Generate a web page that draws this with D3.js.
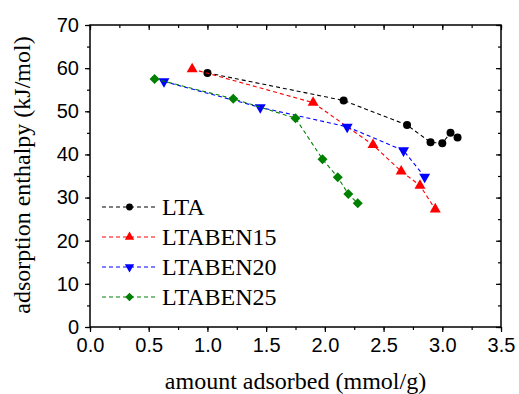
<!DOCTYPE html>
<html><head><meta charset="utf-8">
<script src="https://cdn.jsdelivr.net/npm/d3@7"></script>
</head><body style="margin:0">
<script>
const seriesNames = ["LTA","LTABEN15","LTABEN20","LTABEN25"];
const seriesColors = ["#000000","#ff0000","#0000ff","#008000"];
const seriesSymbols = ["circle","triangleUp","triangleDown","diamond"];
const ltaX = [1.00, 2.16, 2.70, 2.90, 3.00, 3.07, 3.13];
const ltaY = [58.9, 52.5, 46.8, 42.8, 42.6, 45.0, 43.9];
const ben15X = [0.87, 1.90, 2.41, 2.65, 2.81, 2.94];
const ben15Y = [59.8, 52.0, 42.2, 36.1, 32.8, 27.3];
const ben20X = [0.63, 1.45, 2.19, 2.67, 2.85];
const ben20Y = [56.9, 50.9, 46.4, 40.9, 34.8];
const ben25X = [0.55, 1.22, 1.75, 1.98, 2.11, 2.20, 2.28];
const ben25Y = [57.5, 52.9, 48.4, 38.9, 34.7, 30.8, 28.7];
const xTicks = [0.0,0.5,1.0,1.5,2.0,2.5,3.0,3.5];
const yTicks = [0,10,20,30,40,50,60,70];
const xLabel = "amount adsorbed (mmol/g)";
const yLabel = "adsorption enthalpy (kJ/mol)";

const allX = [ltaX, ben15X, ben20X, ben25X];
const allY = [ltaY, ben15Y, ben20Y, ben25Y];

const W = 519, H = 394;
const L = 90, R = 501, T = 25, B = 327;
const svg = d3.select("body").append("svg").attr("width", W).attr("height", H).style("display", "block");
const x = d3.scaleLinear().domain([0, 3.5]).range([L, R]);
const y = d3.scaleLinear().domain([0, 70]).range([B, T]);

const xMinor = d3.range(0, 3.5001, 0.25);
const yMinor = d3.range(0, 70.001, 5);

function styleAxis(g) {
  g.select(".domain").remove();
  g.selectAll(".tick line").attr("stroke", "#000").attr("stroke-width", 1.2);
  g.selectAll("text").style("font-family", "Liberation Sans").attr("font-size", 20).attr("fill", "#000");
}
svg.append("g").attr("transform", `translate(0,${B})`)
  .call(d3.axisBottom(x).tickValues(xMinor).tickSize(3).tickFormat(""))
  .call(styleAxis);
svg.append("g").attr("transform", `translate(0,${T})`)
  .call(d3.axisBottom(x).tickValues(xMinor).tickSize(3).tickFormat(""))
  .call(styleAxis);
svg.append("g").attr("transform", `translate(${L},0)`)
  .call(d3.axisLeft(y).tickValues(yMinor).tickSize(3).tickFormat(""))
  .call(styleAxis);
svg.append("g").attr("transform", `translate(${R},0)`)
  .call(d3.axisLeft(y).tickValues(yMinor).tickSize(3).tickFormat(""))
  .call(styleAxis);
svg.append("g").attr("transform", `translate(0,${B})`)
  .call(d3.axisBottom(x).tickValues(xTicks).tickSize(5).tickPadding(6).tickFormat(d3.format(".1f")))
  .call(styleAxis);
svg.append("g").attr("transform", `translate(0,${T})`)
  .call(d3.axisBottom(x).tickValues(xTicks).tickSize(5).tickFormat(""))
  .call(styleAxis);
svg.append("g").attr("transform", `translate(${L},0)`)
  .call(d3.axisLeft(y).tickValues(yTicks).tickSize(5).tickPadding(6).tickFormat(d3.format("d")))
  .call(styleAxis);
svg.append("g").attr("transform", `translate(${R},0)`)
  .call(d3.axisLeft(y).tickValues(yTicks).tickSize(5).tickFormat(""))
  .call(styleAxis);

svg.append("rect").attr("x", L).attr("y", T).attr("width", R - L).attr("height", B - T)
  .attr("fill", "none").attr("stroke", "#000").attr("stroke-width", 1.5);

function symPath(kind, size) {
  const s = size;
  if (kind === "circle") return d3.symbol(d3.symbolCircle, s * s * Math.PI / 4)();
  if (kind === "diamond") return `M0,${-s/2}L${s/2},0L0,${s/2}L${-s/2},0Z`;
  const h = s * Math.sqrt(3) / 2;
  if (kind === "triangleUp") return `M0,${-h*2/3}L${s/2},${h/3}L${-s/2},${h/3}Z`;
  return `M0,${h*2/3}L${s/2},${-h/3}L${-s/2},${-h/3}Z`;
}

const line = d3.line().x(d => x(d[0])).y(d => y(d[1]));
const sizes = {circle: 8, triangleUp: 11, triangleDown: 11, diamond: 10};
seriesNames.forEach((name, i) => {
  const pts = allX[i].map((v, j) => [v, allY[i][j]]);
  svg.append("path").datum(pts).attr("d", line).attr("fill", "none")
    .attr("stroke", seriesColors[i]).attr("stroke-width", 1.1).attr("stroke-dasharray", "4,3");
  svg.append("g").selectAll("path").data(pts).join("path")
    .attr("transform", d => `translate(${x(d[0])},${y(d[1])})`)
    .attr("d", symPath(seriesSymbols[i], sizes[seriesSymbols[i]]))
    .attr("fill", seriesColors[i]);
});

seriesNames.forEach((name, i) => {
  const cy = 207 + i * 30;
  svg.append("line").attr("x1", 102).attr("x2", 157).attr("y1", cy).attr("y2", cy)
    .attr("stroke", seriesColors[i]).attr("stroke-width", 1.1).attr("stroke-dasharray", "4,3");
  svg.append("path").attr("transform", `translate(129.5,${cy})`)
    .attr("d", symPath(seriesSymbols[i], sizes[seriesSymbols[i]] * 0.85)).attr("fill", seriesColors[i]);
  svg.append("text").attr("x", 162).attr("y", cy + 8).style("font-family", "Liberation Serif")
    .attr("font-size", 24).attr("fill", "#000").text(name);
});

svg.append("text").attr("x", (L + R) / 2).attr("y", 389).attr("text-anchor", "middle")
  .style("font-family", "Liberation Serif").attr("font-size", 24).attr("fill", "#000").text(xLabel);
svg.append("text").attr("transform", "translate(30,175) rotate(-90)").attr("text-anchor", "middle")
  .style("font-family", "Liberation Serif").attr("font-size", 24).attr("fill", "#000").text(yLabel);
</script>
</body></html>
